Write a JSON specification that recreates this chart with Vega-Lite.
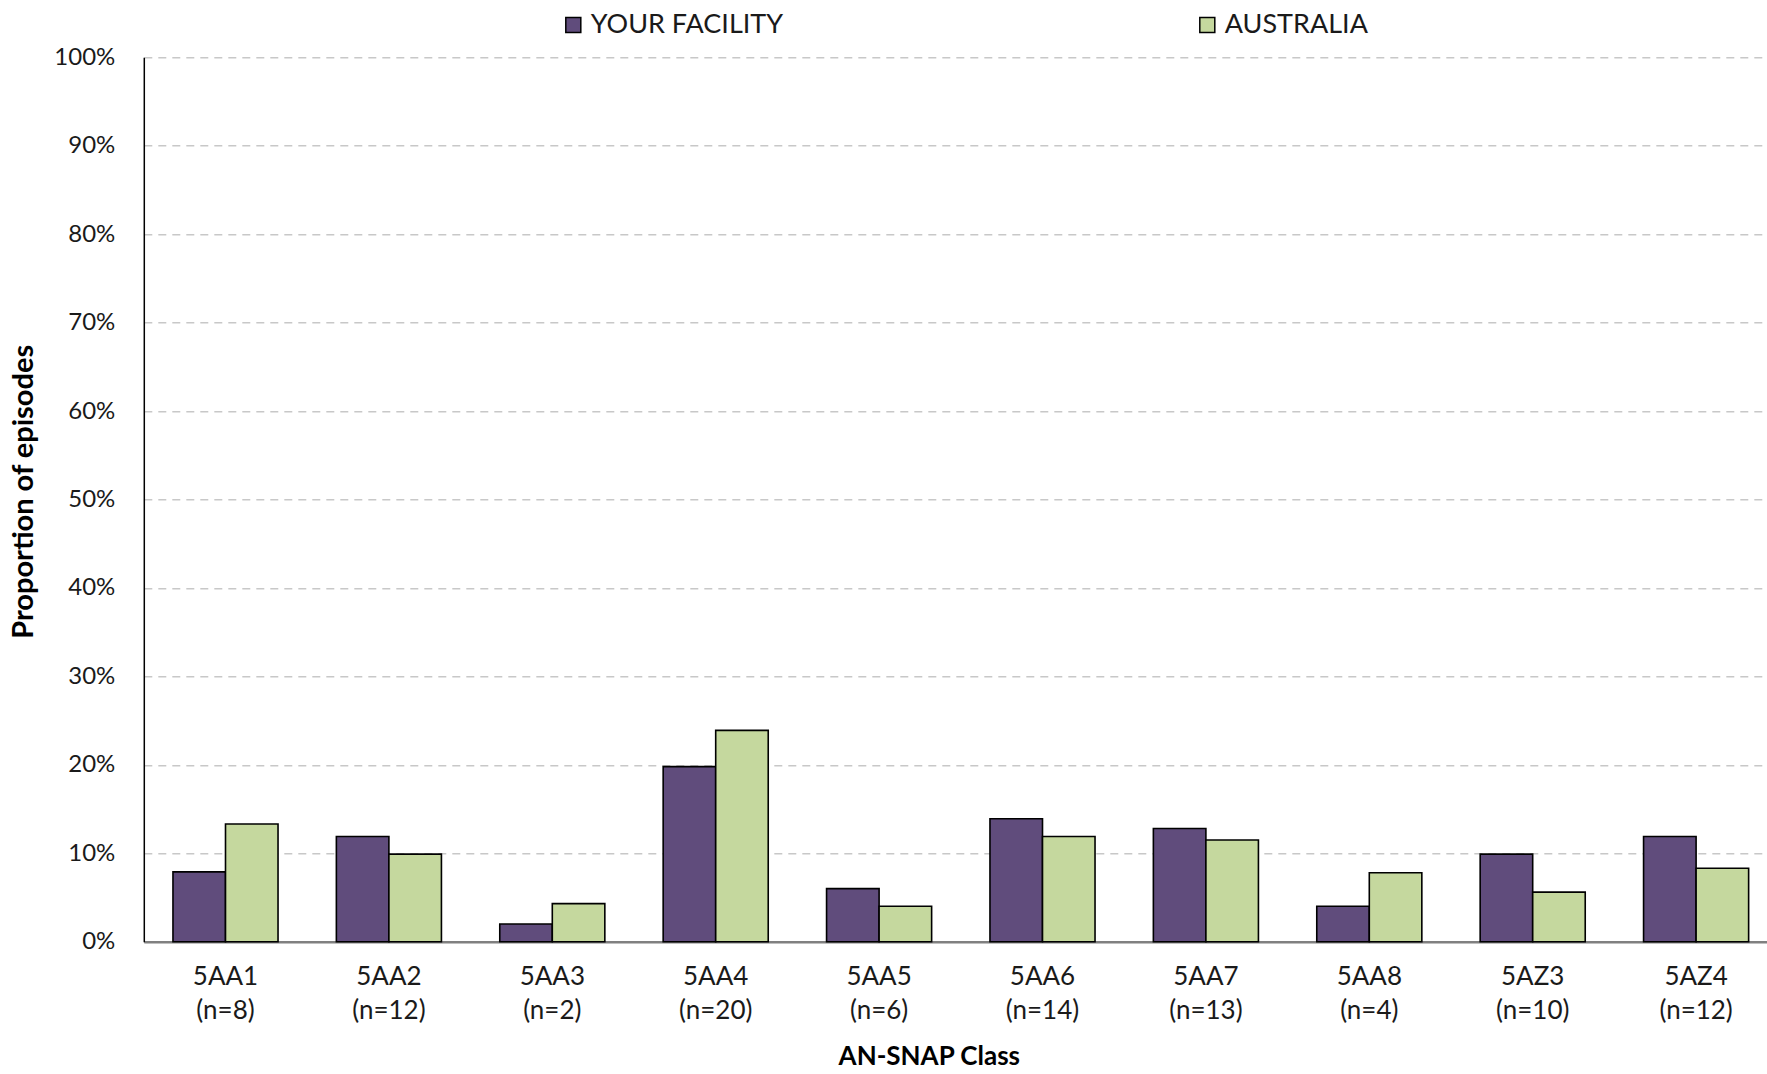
{
  "$schema": "https://vega.github.io/schema/vega-lite/v6.json",
  "width": 1634,
  "height": 884.4,
  "autosize": "none",
  "padding": {"left": 143.8, "top": 57.3, "right": 0, "bottom": 132.3},
  "background": "white",
  "config": {"view": {"stroke": null}, "font": "Lato"},
  "data": {
    "values": [
      {"cls": "5AA1 (n=8)", "series": "YOUR FACILITY", "pct": 0.079},
      {"cls": "5AA1 (n=8)", "series": "AUSTRALIA", "pct": 0.133},
      {"cls": "5AA2 (n=12)", "series": "YOUR FACILITY", "pct": 0.119},
      {"cls": "5AA2 (n=12)", "series": "AUSTRALIA", "pct": 0.099},
      {"cls": "5AA3 (n=2)", "series": "YOUR FACILITY", "pct": 0.020},
      {"cls": "5AA3 (n=2)", "series": "AUSTRALIA", "pct": 0.043},
      {"cls": "5AA4 (n=20)", "series": "YOUR FACILITY", "pct": 0.198},
      {"cls": "5AA4 (n=20)", "series": "AUSTRALIA", "pct": 0.239},
      {"cls": "5AA5 (n=6)", "series": "YOUR FACILITY", "pct": 0.060},
      {"cls": "5AA5 (n=6)", "series": "AUSTRALIA", "pct": 0.040},
      {"cls": "5AA6 (n=14)", "series": "YOUR FACILITY", "pct": 0.139},
      {"cls": "5AA6 (n=14)", "series": "AUSTRALIA", "pct": 0.119},
      {"cls": "5AA7 (n=13)", "series": "YOUR FACILITY", "pct": 0.128},
      {"cls": "5AA7 (n=13)", "series": "AUSTRALIA", "pct": 0.115},
      {"cls": "5AA8 (n=4)", "series": "YOUR FACILITY", "pct": 0.040},
      {"cls": "5AA8 (n=4)", "series": "AUSTRALIA", "pct": 0.078},
      {"cls": "5AZ3 (n=10)", "series": "YOUR FACILITY", "pct": 0.099},
      {"cls": "5AZ3 (n=10)", "series": "AUSTRALIA", "pct": 0.056},
      {"cls": "5AZ4 (n=12)", "series": "YOUR FACILITY", "pct": 0.119},
      {"cls": "5AZ4 (n=12)", "series": "AUSTRALIA", "pct": 0.083}
    ]
  },
  "mark": {"type": "bar", "stroke": "black", "strokeWidth": 1.6},
  "encoding": {
    "x": {
      "field": "cls",
      "type": "nominal",
      "sort": null,
      "scale": {"paddingInner": 0.357, "paddingOuter": 0.1785},
      "axis": {
        "title": "AN-SNAP Class",
        "labelExpr": "split(datum.value, ' ')",
        "labelAngle": 0,
        "labelFontSize": 26,
        "labelLineHeight": 34,
        "labelPadding": 22,
        "labelColor": "#1a1a1a",
        "ticks": false,
        "domainColor": "#808080",
        "domainWidth": 2.5,
        "titleFontSize": 26,
        "titleFontWeight": "bold",
        "titleColor": "#000000",
        "titleX": 785,
        "titleY": 123,
        "titleBaseline": "alphabetic",
        "titleAlign": "center"
      }
    },
    "xOffset": {"field": "series", "type": "nominal", "sort": ["YOUR FACILITY", "AUSTRALIA"]},
    "y": {
      "field": "pct",
      "type": "quantitative",
      "scale": {"domain": [0, 1], "nice": false},
      "axis": {
        "format": ".0%",
        "values": [0, 0.1, 0.2, 0.3, 0.4, 0.5, 0.6, 0.7, 0.8, 0.9, 1.0],
        "grid": true,
        "gridDash": [8, 6],
        "gridColor": "#c8c8c8",
        "gridWidth": 1.5,
        "ticks": false,
        "domainColor": "#000000",
        "domainWidth": 1.5,
        "labelFontSize": 24,
        "labelPadding": 29,
        "labelColor": "#1a1a1a",
        "title": "Proportion of episodes",
        "titleFontSize": 29,
        "titleFontWeight": "bold",
        "titleColor": "#000000",
        "titleX": -120,
        "titleY": 434,
        "titleAngle": -90,
        "titleBaseline": "middle",
        "titleAlign": "center"
      }
    },
    "color": {
      "field": "series",
      "type": "nominal",
      "sort": ["YOUR FACILITY", "AUSTRALIA"],
      "scale": {"domain": ["YOUR FACILITY", "AUSTRALIA"], "range": ["#604C7C", "#C5D89E"]},
      "legend": {
        "orient": "none",
        "legendX": 416,
        "legendY": -46,
        "direction": "horizontal",
        "title": null,
        "symbolType": "square",
        "symbolSize": 225,
        "symbolStrokeColor": "black",
        "symbolStrokeWidth": 1.5,
        "symbolOpacity": 1,
        "labelFontSize": 27,
        "labelColor": "#1a1a1a",
        "labelOffset": 4,
        "labelLimit": 500,
        "columnPadding": 410
      }
    }
  }
}
